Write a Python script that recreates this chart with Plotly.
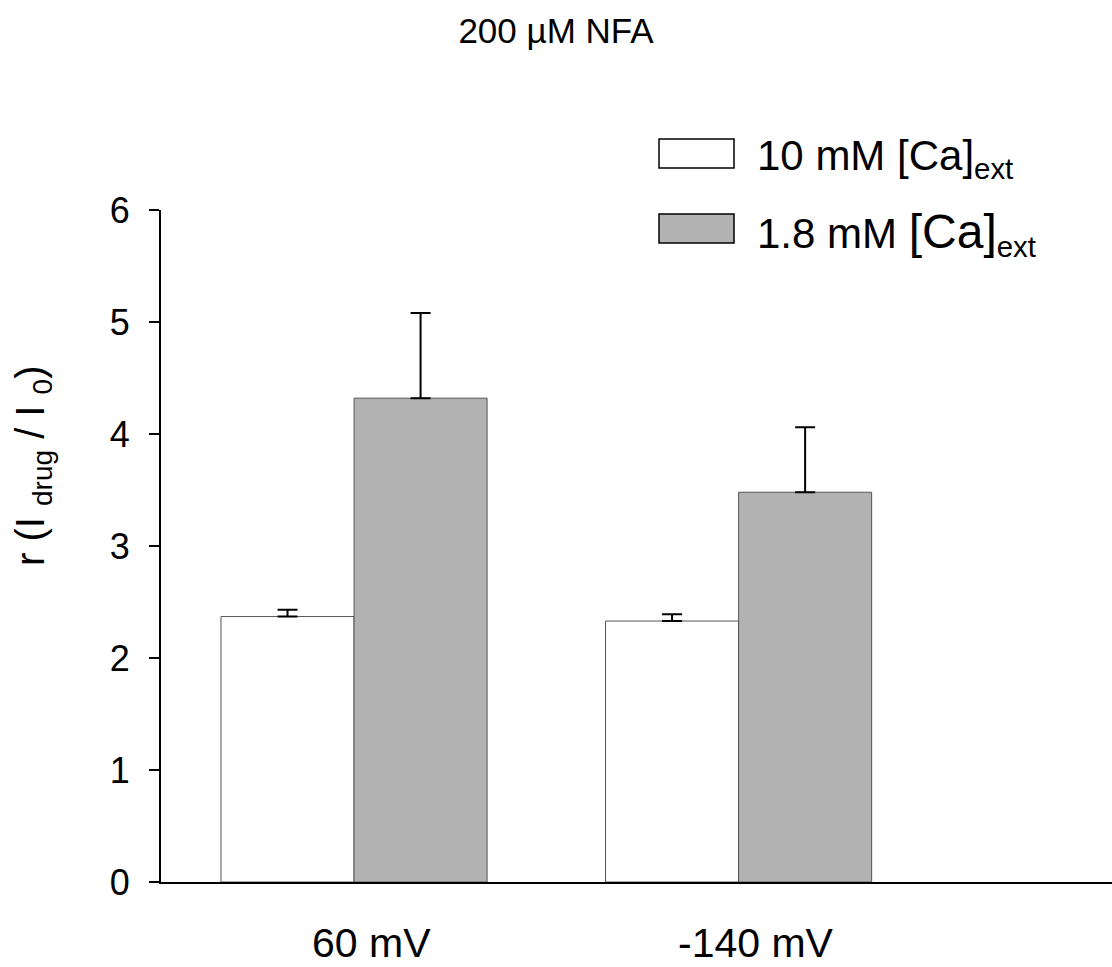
import plotly.graph_objects as go

categories = ["60 mV", "-140 mV"]
x_pos = [0, 1]
ca10_mean = [2.37, 2.33]
ca10_err = [0.06, 0.06]
ca18_mean = [4.32, 3.48]
ca18_err = [0.76, 0.58]
y_ticks = [0, 1, 2, 3, 4, 5, 6]

W, H = 1112, 967
FONT = "Arial, Liberation Sans, sans-serif"

fig = go.Figure()
fig.add_trace(go.Bar(
    x=x_pos, y=ca10_mean, name="10 mM [Ca]ext",
    marker=dict(color="#ffffff", line=dict(color="#555555", width=1)),
    error_y=dict(type="data", array=ca10_err, arrayminus=[0, 0], symmetric=False,
                 color="black", thickness=2, width=10),
))
fig.add_trace(go.Bar(
    x=x_pos, y=ca18_mean, name="1.8 mM [Ca]ext",
    marker=dict(color="#b2b2b2", line=dict(color="#555555", width=1)),
    error_y=dict(type="data", array=ca18_err, arrayminus=[0, 0], symmetric=False,
                 color="black", thickness=2, width=10),
))

L, R, T, B = 161, 0, 210, 85
fig.update_layout(
    width=W, height=H,
    margin=dict(l=L, r=R, t=T, b=B, pad=0),
    paper_bgcolor="white", plot_bgcolor="white",
    barmode="group", bargap=0.308, bargroupgap=0,
    showlegend=False,
    font=dict(family=FONT, color="black", size=36),
    title=dict(text="200 µM NFA", x=0.5, xanchor="center", y=1 - 31 / H,
               yanchor="middle", font=dict(size=35, family=FONT)),
    xaxis=dict(range=[-0.502, 1.971], tickvals=x_pos, showticklabels=False,
               showline=True, linecolor="black", linewidth=2, ticks="",
               showgrid=False, zeroline=False),
    yaxis=dict(range=[0, 6], tickvals=y_ticks, showline=True, linecolor="black",
               linewidth=2, ticks="outside", ticklen=10, tickwidth=2,
               tickcolor="black", showgrid=False, zeroline=False,
               tickfont=dict(size=36), ticklabelstandoff=12),
)

def px_x(p):
    return (p - L) / (W - L - R)

def px_y(p):
    return (H - B - p) / (H - T - B)

# category labels
for xv, lab in zip(x_pos, categories):
    fig.add_annotation(xref="x", yref="paper", x=xv, y=px_y(943), xshift=17,
                       text=lab, showarrow=False, xanchor="center", yanchor="middle",
                       font=dict(size=41, family=FONT))

# y-axis title
fig.add_annotation(
    xref="paper", yref="paper",
    x=px_x(33), y=px_y(466),
    text="r (I <sub>drug</sub> / I <sub>0</sub>)", textangle=-90,
    showarrow=False, xanchor="center", yanchor="middle",
    font=dict(size=40, family=FONT),
)

# legend drawn manually
legend_items = [
    ("#ffffff", 139, 168, "10 mM [Ca]<sub>ext</sub>"),
    ("#b2b2b2", 214, 243, "1.8 mM <span style='font-size:48px'>[Ca]</span><sub>ext</sub>"),
]
for color, y0, y1, label in legend_items:
    fig.add_shape(type="rect", xref="paper", yref="paper",
                  x0=px_x(659), x1=px_x(734), y0=px_y(y1), y1=px_y(y0),
                  fillcolor=color, line=dict(color="black", width=1.5))
    fig.add_annotation(xref="paper", yref="paper", x=px_x(755), y=px_y((y0 + y1) / 2 + 5),
                       text=label, showarrow=False, xanchor="left", yanchor="middle",
                       font=dict(size=42, family=FONT))

fig.write_html("out.html")
